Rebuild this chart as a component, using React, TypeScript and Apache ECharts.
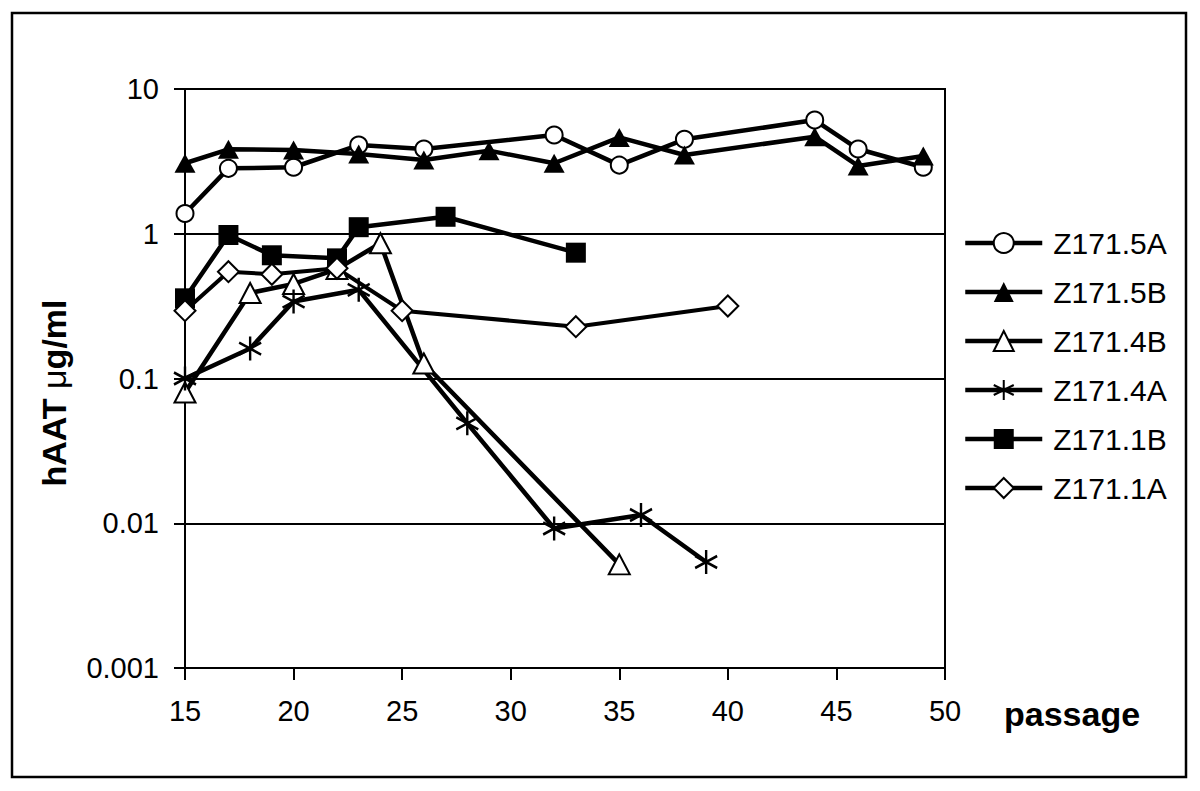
import React, { useEffect, useRef } from "react";
import * as echarts from "echarts";

const yTicks = [0.001, 0.01, 0.1, 1, 10];
const xTicks = [15, 20, 25, 30, 35, 40, 45, 50];

const passage5A = [15, 17, 20, 23, 26, 32, 35, 38, 44, 46, 49];
const z5A = [1.38, 2.83, 2.88, 4.1, 3.85, 4.81, 2.98, 4.49, 6.1, 3.85, 2.88];

const passage5B = [15, 17, 20, 23, 26, 29, 32, 35, 38, 44, 46, 49];
const z5B = [3.07, 3.83, 3.79, 3.56, 3.23, 3.75, 3.07, 4.63, 3.5, 4.68, 2.94, 3.44];

const passage4B = [15, 18, 20, 22, 24, 26, 35];
const z4B = [0.08, 0.39, 0.45, 0.57, 0.86, 0.127, 0.0052];

const passage4A = [15, 18, 20, 23, 28, 32, 36, 39];
const z4A = [0.1, 0.161, 0.34, 0.41, 0.049, 0.0092, 0.0114, 0.0054];

const passage1B = [15, 17, 19, 22, 23, 27, 33];
const z1B = [0.358, 0.98, 0.71, 0.676, 1.11, 1.31, 0.74];

const passage1A = [15, 17, 19, 22, 25, 33, 40];
const z1A = [0.294, 0.547, 0.525, 0.577, 0.294, 0.228, 0.317];

const seriesNames = ["Z171.5A", "Z171.5B", "Z171.4B", "Z171.4A", "Z171.1B", "Z171.1A"];

const FONT = "'Liberation Sans', Arial, Helvetica, sans-serif";
const STAR = "path://M0,-1L0,1M-0.866,-0.5L0.866,0.5M-0.866,0.5L0.866,-0.5";

function pairs(xs: number[], ys: number[]) {
  return xs.map((x, i) => [x, ys[i]]);
}

export default function App() {
  const ref = useRef<HTMLDivElement>(null);
  useEffect(() => {
    if (!ref.current) return;
    const chart = echarts.init(ref.current, null, { renderer: "svg" });
    const mk = (
      name: string,
      data: number[][],
      symbol: string,
      size: number | number[],
      itemStyle: any,
      lw = 4.5
    ) => ({
      name,
      type: "line",
      data,
      symbol,
      symbolSize: size,
      showSymbol: true,
      showAllSymbol: true,
      lineStyle: { color: "#000", width: lw },
      itemStyle,
      emphasis: { disabled: true },
    });
    chart.setOption({
      animation: false,
      backgroundColor: "#fff",
      textStyle: { fontFamily: FONT, color: "#000" },
      grid: {
        left: 185,
        right: 255,
        top: 89,
        bottom: 123,
        show: true,
        borderColor: "#000",
        borderWidth: 2,
        backgroundColor: "transparent",
        outerBoundsMode: "none",
      },
      legend: {
        orient: "vertical",
        left: 963,
        top: 228,
        padding: 0,
        itemWidth: 77,
        itemHeight: 25,
        itemGap: 19,
        data: seriesNames,
        lineStyle: { width: 4.5, color: "#000" },
        textStyle: {
          fontFamily: FONT,
          fontSize: 30,
          color: "#000",
          lineHeight: 30,
          padding: [0, 0, 0, 6],
        },
        selectedMode: false,
      },
      xAxis: {
        type: "value",
        min: xTicks[0],
        max: xTicks[xTicks.length - 1],
        interval: 5,
        splitLine: { show: false },
        axisLine: { lineStyle: { color: "#000", width: 2 } },
        axisTick: { show: true, length: 12, lineStyle: { color: "#000", width: 2 } },
        axisLabel: { fontSize: 29, color: "#000", fontFamily: FONT, margin: 28 },
      },
      yAxis: {
        type: "log",
        logBase: 10,
        min: yTicks[0],
        max: yTicks[yTicks.length - 1],
        axisLine: { show: true, lineStyle: { color: "#000", width: 2 } },
        axisTick: { show: true, length: 11, lineStyle: { color: "#000", width: 2 } },
        splitLine: { show: true, lineStyle: { color: "#000", width: 1.8 } },
        axisLabel: {
          fontSize: 29,
          color: "#000",
          fontFamily: FONT,
          margin: 26,
          formatter: (v: number) => String(Number(v.toPrecision(1))),
        },
      },
      graphic: [
        {
          type: "rect",
          shape: { x: 12, y: 13, width: 1174, height: 764 },
          style: { fill: "none", stroke: "#000", lineWidth: 2.5 },
          z: -1,
          silent: true,
        },
        {
          type: "text",
          x: 54,
          y: 393,
          rotation: Math.PI / 2,
          style: {
            text: "{b|hAAT }{m|μ}{b|g/ml}",
            align: "center",
            verticalAlign: "middle",
            rich: {
              b: { fontFamily: FONT, fontWeight: "bold", fontSize: 34, fill: "#000" },
              m: { fontFamily: FONT, fontWeight: "normal", fontSize: 34, fill: "#000" },
            },
          },
        },
        {
          type: "text",
          x: 1004,
          y: 714,
          style: {
            text: "passage",
            fontFamily: FONT,
            fontWeight: "bold",
            fontSize: 34,
            fill: "#000",
            align: "left",
            verticalAlign: "middle",
          },
        },
      ],
      series: [
        mk(seriesNames[0], pairs(passage5A, z5A), "emptyCircle", 17, {
          color: "#000",
          borderColor: "#000",
          borderWidth: 3,
        }),
        mk(seriesNames[1], pairs(passage5B, z5B), "triangle", [21, 19], {
          color: "#000",
          borderColor: "#000",
          borderWidth: 0,
        }),
        mk(seriesNames[2], pairs(passage4B, z4B), "emptyTriangle", [21, 20], {
          color: "#000",
          borderColor: "#000",
          borderWidth: 2.5,
        }),
        mk(seriesNames[3], pairs(passage4A, z4A), STAR, [22, 24], {
          color: "#000",
          borderColor: "#000",
          borderWidth: 2.5,
        }),
        mk(seriesNames[4], pairs(passage1B, z1B), "rect", 20, {
          color: "#000",
          borderColor: "#000",
          borderWidth: 0,
        }),
        mk(
          seriesNames[5],
          pairs(passage1A, z1A),
          "emptyDiamond",
          [21, 21],
          { color: "#000", borderColor: "#000", borderWidth: 2.5 },
          4
        ),
      ],
    });
    return () => chart.dispose();
  }, []);
  return (
    <div
      ref={ref}
      style={{ position: "fixed", left: 0, top: 0, width: 1200, height: 791, background: "#fff" }}
    />
  );
}
